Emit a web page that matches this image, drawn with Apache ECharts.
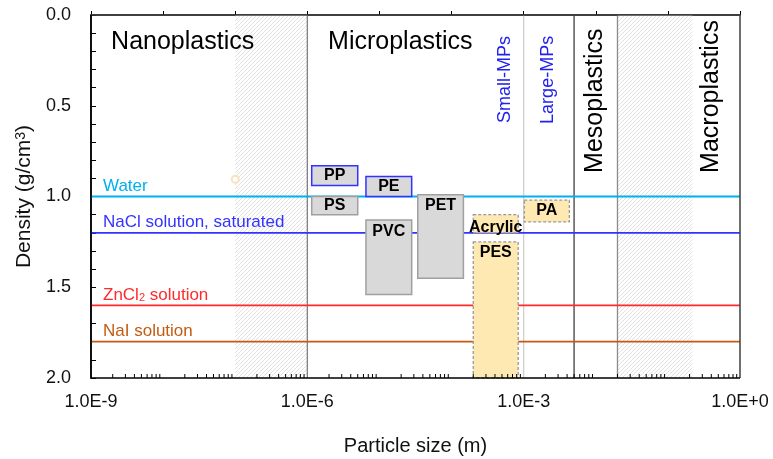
<!DOCTYPE html>
<html><head><meta charset="utf-8">
<script src="https://cdn.jsdelivr.net/npm/echarts@6/dist/echarts.min.js"></script>
<style>html,body{margin:0;padding:0;background:#fff}#c{width:773px;height:459px}</style>
</head><body><div id="c"></div>
<script>
// ---------- data ----------
const polymers   = ['PP', 'PS', 'PE', 'PVC', 'PET', 'Acrylic', 'PES', 'PA'];
const sizeMin    = [1.15e-6, 1.15e-6, 6.5e-6, 6.5e-6, 3.4e-5, 2.0e-4, 2.0e-4, 1.02e-3];
const sizeMax    = [5.0e-6, 5.0e-6, 2.8e-5, 2.8e-5, 1.46e-4, 8.4e-4, 8.4e-4, 4.3e-3];
const densityMin = [0.83, 1.00, 0.89, 1.13, 0.99, 1.10, 1.25, 1.02];
const densityMax = [0.94, 1.10, 1.00, 1.54, 1.45, 1.20, 2.00, 1.14];
const polymerKind = ['floatBlue', 'gray', 'floatBlue', 'gray', 'gray', 'fibre', 'fibre', 'fibre'];

const solutions       = ['Water', 'NaCl solution, saturated', 'ZnCl{sub|2} solution', 'NaI solution'];
const solutionDensity = [1.0, 1.2, 1.6, 1.8];

const classBoundaries = [1e-6, 1e-3, 5e-3, 2e-2];
const transitionStart = [1e-7, 2e-2];
const transitionEnd   = [1e-6, 0.22];

const regionNames = ['Nanoplastics', 'Microplastics', 'Small-MPs', 'Large-MPs', 'Mesoplastics', 'Macroplastics'];
const strayPoint = [[1e-7, 0.905]];

const xTickExponents = [-9, -6, -3, 0];

// ---------- styling / layout (not data) ----------
const FONT = "'Liberation Sans', Arial, sans-serif";
const solutionColors = ['#00B0F0', '#3333FF', '#FF2A2A', '#C55A11'];
const boundaryColors = ['#7f7f7f', '#cfcfcf', '#404040', '#8a8a8a'];
const labelPlacement = ['middle', 'middle', 'middle', 'top', 'top', 'middle', 'top', 'middle'];
const labelShift = [0, 0, 0, 0, 0, 4, 0, 0];
const regionLayout = [
  {x: 1.9e-9, y: 0.15, rot: false, size: 25, color: '#000'},
  {x: 1.94e-6, y: 0.15, rot: false, size: 25, color: '#000'},
  {x: 5.5e-4, y: 0.595, rot: true, size: 18, color: '#2222EE'},
  {x: 2.18e-3, y: 0.60, rot: true, size: 18, color: '#2222EE'},
  {x: 9.8e-3, y: 0.87, rot: true, size: 25, color: '#000'},
  {x: 0.397, y: 0.87, rot: true, size: 25, color: '#000'}
];
const kindStyle = {
  floatBlue: {fill: '#D9D9D9', stroke: '#3333FF', lineWidth: 1.5, lineDash: null},
  gray:      {fill: '#D9D9D9', stroke: '#A0A0A0', lineWidth: 1.5, lineDash: null},
  fibre:     {fill: '#FFE9B3', stroke: '#999999', lineWidth: 1.3, lineDash: [3, 2]}
};

function makeHatch() {
  const n = 4;
  const c = document.createElement('canvas');
  c.width = n; c.height = n;
  const g = c.getContext('2d');
  g.fillStyle = '#ffffff'; g.fillRect(0, 0, n, n);
  g.strokeStyle = '#d9d9d9'; g.lineWidth = 0.8;
  g.beginPath();
  g.moveTo(0, n); g.lineTo(n, 0);
  g.moveTo(-1, 1); g.lineTo(1, -1);
  g.moveTo(n - 1, n + 1); g.lineTo(n + 1, n - 1);
  g.stroke();
  return c;
}
const hatchCanvas = makeHatch();

const minorTicks = [];
for (let e = -9; e < 0; e++) for (let k = 2; k <= 9; k++) minorTicks.push([k * Math.pow(10, e), 2]);

const chart = echarts.init(document.getElementById('c'), null, {renderer: 'canvas'});

const option = {
  animation: false,
  textStyle: {fontFamily: FONT},
  grid: {left: 91, right: 33, top: 15, bottom: 81, containLabel: false, outerBoundsMode: 'none'},
  xAxis: {
    type: 'log', logBase: 10, min: 1e-9, max: 1, splitNumber: 9,
    axisLine: {lineStyle: {color: '#000', width: 1.5}},
    axisTick: {inside: true, length: 4, lineStyle: {color: '#000'}},
    axisLabel: {
      interval: 0, fontSize: 18, color: '#111', margin: 15, fontFamily: FONT,
      formatter: v => {
        const e = Math.round(Math.log10(v));
        if (!xTickExponents.includes(e)) return '';
        return '1.0E' + (e >= 0 ? '+' : '-') + Math.abs(e);
      }
    },
    splitLine: {show: false},
    name: 'Particle size (m)', nameLocation: 'middle', nameGap: 58,
    nameTextStyle: {fontSize: 20, color: '#111', fontFamily: FONT}
  },
  yAxis: {
    type: 'value', inverse: true, min: 0, max: 2, interval: 0.5,
    axisLine: {show: true, lineStyle: {color: '#000', width: 1.5}},
    axisTick: {inside: true, length: 5, lineStyle: {color: '#000'}},
    minorTick: {show: true, splitNumber: 5, length: 5, lineStyle: {color: '#000'}},
    axisLabel: {formatter: v => v.toFixed(1), fontSize: 18, color: '#111', margin: 20, fontFamily: FONT},
    splitLine: {show: false},
    name: 'Density (g/cm{sup|3})', nameLocation: 'middle', nameGap: 53,
    nameTextStyle: {fontSize: 21, color: '#111', fontFamily: FONT,
      rich: {sup: {fontSize: 14, verticalAlign: 'top', lineHeight: 14, color: '#111', fontFamily: FONT}}}
  },
  series: [
    // transition (hatched) zones
    {
      type: 'custom', z: 1, silent: true,
      data: transitionStart.map((s, i) => [s, transitionEnd[i]]),
      renderItem: (params, api) => {
        const i = params.dataIndex;
        const p0 = api.coord([transitionStart[i], 0]);
        const p1 = api.coord([transitionEnd[i], 2]);
        return {type: 'rect', shape: {x: p0[0], y: p0[1], width: p1[0] - p0[0], height: p1[1] - p0[1]},
          style: {fill: {image: hatchCanvas, repeat: 'repeat'}}};
      }
    },
    // size class boundaries
    {
      type: 'custom', z: 2, silent: true,
      data: classBoundaries.map(b => [b, 0]),
      renderItem: (params, api) => {
        const i = params.dataIndex;
        const p0 = api.coord([classBoundaries[i], 0]);
        const p1 = api.coord([classBoundaries[i], 2]);
        return {type: 'line', shape: {x1: p0[0], y1: p0[1], x2: p1[0], y2: p1[1]},
          style: {stroke: boundaryColors[i], lineWidth: 1.3}};
      }
    },
    // solution density lines + labels
    {
      type: 'custom', z: 3, silent: true,
      data: solutionDensity.map(d => [1e-9, d]),
      renderItem: (params, api) => {
        const i = params.dataIndex;
        const p0 = api.coord([1e-9, solutionDensity[i]]);
        const p1 = api.coord([1, solutionDensity[i]]);
        return {type: 'group', children: [
          {type: 'line', shape: {x1: p0[0], y1: p0[1], x2: p1[0], y2: p1[1]},
            style: {stroke: solutionColors[i], lineWidth: 1.8}},
          {type: 'text', x: p0[0] + 12, y: p0[1] - 2,
            style: {text: solutions[i], fill: solutionColors[i], fontSize: 17, fontFamily: FONT,
              align: 'left', verticalAlign: 'bottom',
              rich: {sub: {fontSize: 11, verticalAlign: 'bottom', lineHeight: 11, padding: [4, 0, 0, 0], fill: solutionColors[i], fontFamily: FONT}}}}
        ]};
      }
    },
    // polymer boxes
    {
      type: 'custom', z: 4, silent: true,
      data: polymers.map((p, i) => [sizeMin[i], densityMin[i]]),
      renderItem: (params, api) => {
        const i = params.dataIndex;
        const p0 = api.coord([sizeMin[i], densityMin[i]]);
        const p1 = api.coord([sizeMax[i], densityMax[i]]);
        const st = kindStyle[polymerKind[i]];
        const cx = (p0[0] + p1[0]) / 2;
        const cy = (labelPlacement[i] === 'top' ? p0[1] + 11 : (p0[1] + p1[1]) / 2) + labelShift[i];
        return {type: 'group', children: [
          {type: 'rect', shape: {x: p0[0], y: p0[1], width: p1[0] - p0[0], height: p1[1] - p0[1]},
            style: {fill: st.fill, stroke: st.stroke, lineWidth: st.lineWidth, lineDash: st.lineDash}},
          {type: 'text', x: cx, y: cy, z2: 10,
            style: {text: polymers[i], fill: '#000', fontSize: 16, fontWeight: 'bold', fontFamily: FONT,
              align: 'center', verticalAlign: 'middle'}}
        ]};
      }
    },
    // region names
    {
      type: 'custom', z: 5, silent: true,
      data: regionNames.map((n, i) => [regionLayout[i].x, regionLayout[i].y]),
      renderItem: (params, api) => {
        const i = params.dataIndex;
        const L = regionLayout[i];
        const p = api.coord([L.x, L.y]);
        return {type: 'text', x: p[0], y: p[1], rotation: L.rot ? Math.PI / 2 : 0,
          style: {text: regionNames[i], fill: L.color, fontSize: L.size, fontFamily: FONT,
            align: 'left', verticalAlign: 'middle'}};
      }
    },
    // log minor ticks on the x axis
    {
      type: 'custom', z: 6, silent: true,
      data: minorTicks,
      renderItem: (params, api) => {
        const p = api.coord([api.value(0), 2]);
        return {type: 'line', shape: {x1: p[0], y1: p[1], x2: p[0], y2: p[1] - 4},
          style: {stroke: '#000', lineWidth: 1}};
      }
    },
    // plot frame (drawn above the hatching)
    {
      type: 'custom', z: 10, silent: true,
      data: [[1e-9, 0]],
      renderItem: (params, api) => {
        const a = api.coord([1e-9, 0]);
        const b = api.coord([1, 2]);
        return {type: 'group', children: [
          {type: 'polyline', shape: {points: [[a[0], a[1]], [b[0], a[1]], [b[0], b[1]]]},
            style: {stroke: '#404040', lineWidth: 1.5, fill: null}},
          {type: 'polyline', shape: {points: [[a[0], a[1]], [a[0], b[1]], [b[0], b[1]]]},
            style: {stroke: '#000', lineWidth: 1.5, fill: null}}
        ]};
      }
    },
    {
      type: 'scatter', z: 3, silent: true, data: strayPoint,
      symbol: 'emptyCircle', symbolSize: 7,
      itemStyle: {color: '#F6DDAE', borderColor: '#F6DDAE', borderWidth: 1}
    }
  ]
};
chart.setOption(option);
</script>
</body></html>
